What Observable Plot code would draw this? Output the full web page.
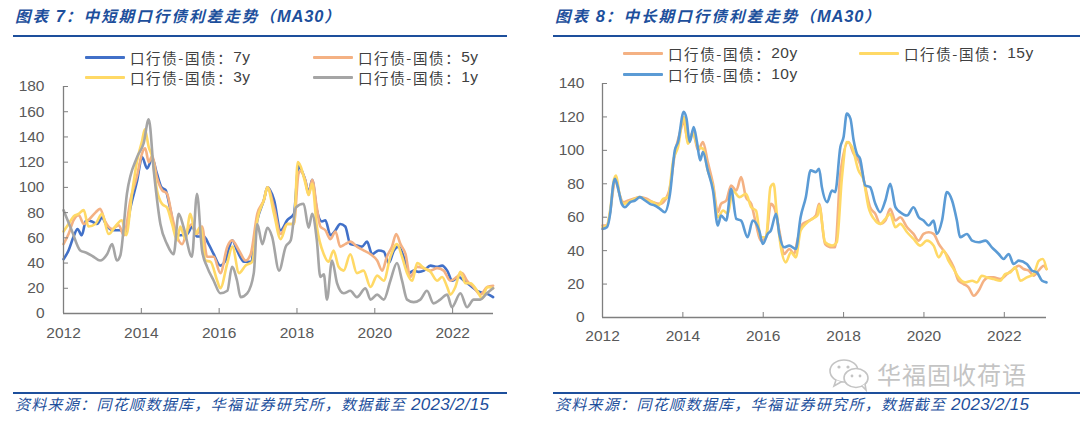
<!DOCTYPE html>
<html><head><meta charset="utf-8">
<script src="https://cdn.jsdelivr.net/npm/d3@7"></script>
<script src="https://cdn.jsdelivr.net/npm/@observablehq/plot@0.6"></script>
<style>
body{margin:0;background:#fff;width:1080px;height:422px;position:relative;overflow:hidden;font-family:"Noto Sans CJK SC",sans-serif;}
.abs{position:absolute;}
.title{font-size:15.5px;font-weight:bold;font-style:italic;color:#1d4f9c;letter-spacing:2.1px;white-space:nowrap;line-height:20px;}
.title .n{font-family:"Liberation Sans",Arial,sans-serif;font-size:16.5px;letter-spacing:0.8px;}
.rule{height:2px;background:#1d4f9c;}
.leg{font-size:14.5px;color:#404040;letter-spacing:1.6px;white-space:nowrap;display:flex;align-items:center;height:20px;}
.leg .n{font-family:"Liberation Sans",Arial,sans-serif;font-size:15.5px;letter-spacing:0.5px;}
.sw{display:inline-block;width:40px;height:3px;margin-right:5px;border-radius:1px;}
.src{font-size:15px;font-style:italic;color:#1d4f9c;white-space:nowrap;line-height:20px;letter-spacing:1.3px;}
.src .n{font-family:"Liberation Sans",Arial,sans-serif;font-size:17px;letter-spacing:0.3px;}
.wm{font-size:24px;color:#c4c4c4;white-space:nowrap;line-height:30px;letter-spacing:1px;}
</style></head>
<body>
<script>
// ---------- Left chart: 中短期 (x = decimal year, y = bp) ----------
const leftNames = ["口行债-国债：7y", "口行债-国债：5y", "口行债-国债：3y", "口行债-国债：1y"];
const leftColors = ["#4170C8", "#F4B183", "#FFD966", "#A5A5A5"];
const s7y = [[2012.00,43],[2012.13,50],[2012.26,61],[2012.36,67],[2012.47,62],[2012.58,74],[2012.73,73],[2012.86,71],[2012.99,76],[2013.12,69],[2013.29,66],[2013.46,66],[2013.59,63],[2013.72,84],[2013.89,105],[2014.02,124],[2014.15,115],[2014.28,123],[2014.40,111],[2014.52,100],[2014.62,98],[2014.75,82],[2014.88,63],[2015.00,62],[2015.18,63],[2015.31,69],[2015.43,61],[2015.61,61],[2015.73,55],[2015.86,47],[2016.03,38],[2016.16,42],[2016.34,58],[2016.46,50],[2016.64,41],[2016.81,41],[2016.98,74],[2017.15,90],[2017.24,100],[2017.41,90],[2017.58,66],[2017.75,74],[2017.92,79],[2018.04,117],[2018.09,115],[2018.21,106],[2018.30,96],[2018.39,106],[2018.51,82],[2018.64,73],[2018.73,74],[2018.86,62],[2018.99,66],[2019.11,71],[2019.24,69],[2019.37,55],[2019.54,54],[2019.67,53],[2019.80,57],[2019.93,47],[2020.10,50],[2020.23,49],[2020.36,40],[2020.49,50],[2020.61,53],[2020.74,45],[2020.87,32],[2021.00,34],[2021.13,33],[2021.26,34],[2021.43,38],[2021.60,37],[2021.73,38],[2021.86,34],[2021.99,26],[2022.16,29],[2022.29,26],[2022.46,22],[2022.63,18],[2022.80,16],[2022.93,15],[2023.04,13]];
const s5y = [[2012.00,55],[2012.13,63],[2012.26,74],[2012.39,78],[2012.52,71],[2012.64,74],[2012.82,80],[2012.94,83],[2013.07,73],[2013.25,67],[2013.42,70],[2013.55,62],[2013.72,90],[2013.89,109],[2014.02,127],[2014.10,131],[2014.19,120],[2014.28,125],[2014.40,108],[2014.53,98],[2014.66,95],[2014.79,77],[2014.92,61],[2015.05,55],[2015.18,66],[2015.31,71],[2015.43,63],[2015.56,69],[2015.69,45],[2015.86,45],[2016.03,32],[2016.21,53],[2016.33,58],[2016.51,50],[2016.68,42],[2016.81,47],[2016.98,79],[2017.15,90],[2017.24,100],[2017.41,84],[2017.58,63],[2017.75,71],[2017.92,71],[2018.04,111],[2018.09,113],[2018.21,106],[2018.30,94],[2018.39,106],[2018.51,84],[2018.60,69],[2018.73,66],[2018.86,59],[2018.99,65],[2019.11,53],[2019.24,55],[2019.37,57],[2019.54,53],[2019.71,50],[2019.89,47],[2020.06,42],[2020.19,34],[2020.31,45],[2020.44,53],[2020.55,63],[2020.66,55],[2020.79,47],[2020.91,29],[2021.09,37],[2021.26,36],[2021.43,34],[2021.60,36],[2021.77,34],[2021.94,26],[2022.11,29],[2022.24,32],[2022.37,26],[2022.54,21],[2022.71,15],[2022.89,21],[2023.04,22]];
const s3y = [[2012.00,65],[2012.13,71],[2012.26,77],[2012.39,79],[2012.52,82],[2012.64,69],[2012.82,71],[2012.99,79],[2013.16,63],[2013.33,69],[2013.50,74],[2013.61,62],[2013.76,95],[2013.89,121],[2014.02,137],[2014.09,146],[2014.19,132],[2014.28,124],[2014.40,98],[2014.53,87],[2014.66,84],[2014.79,71],[2014.92,58],[2015.00,69],[2015.13,59],[2015.26,79],[2015.39,63],[2015.52,69],[2015.65,42],[2015.78,41],[2015.95,26],[2016.03,20],[2016.21,40],[2016.34,53],[2016.51,32],[2016.68,38],[2016.85,41],[2016.98,74],[2017.15,90],[2017.24,100],[2017.41,79],[2017.58,59],[2017.75,71],[2017.92,71],[2018.02,120],[2018.09,117],[2018.21,104],[2018.30,94],[2018.39,103],[2018.51,69],[2018.69,47],[2018.81,41],[2018.94,50],[2019.07,37],[2019.20,34],[2019.37,47],[2019.54,32],[2019.71,34],[2019.89,21],[2020.06,30],[2020.23,26],[2020.40,45],[2020.57,55],[2020.70,45],[2020.83,32],[2020.96,26],[2021.09,40],[2021.26,36],[2021.43,33],[2021.60,26],[2021.73,29],[2021.86,21],[2021.94,15],[2022.07,21],[2022.20,33],[2022.33,24],[2022.46,24],[2022.63,18],[2022.76,12],[2022.89,21],[2023.04,20]];
const s1y = [[2012.00,82],[2012.21,66],[2012.43,50],[2012.60,48],[2012.77,45],[2012.94,42],[2013.12,47],[2013.25,55],[2013.37,42],[2013.46,46],[2013.63,95],[2013.89,124],[2014.06,135],[2014.19,154],[2014.32,113],[2014.49,71],[2014.66,55],[2014.83,47],[2014.96,79],[2015.09,68],[2015.30,45],[2015.43,95],[2015.56,50],[2015.69,37],[2015.86,26],[2016.03,16],[2016.21,18],[2016.33,37],[2016.46,26],[2016.55,13],[2016.72,16],[2016.89,32],[2016.98,71],[2017.11,55],[2017.24,68],[2017.36,61],[2017.54,34],[2017.71,53],[2017.84,58],[2017.97,84],[2018.17,87],[2018.30,68],[2018.39,79],[2018.51,58],[2018.60,29],[2018.69,31],[2018.77,11],[2018.90,42],[2019.03,24],[2019.20,16],[2019.37,18],[2019.54,13],[2019.76,20],[2019.89,11],[2020.06,15],[2020.23,11],[2020.40,26],[2020.57,40],[2020.70,26],[2020.83,11],[2021.00,9],[2021.17,11],[2021.34,18],[2021.51,8],[2021.68,11],[2021.86,15],[2021.98,5],[2022.20,16],[2022.37,5],[2022.54,11],[2022.71,11],[2022.88,16],[2023.04,20]];
const leftYTicks = [0, 20, 40, 60, 80, 100, 120, 140, 160, 180];

// ---------- Right chart: 中长期 ----------
const rightNames = ["口行债-国债：20y", "口行债-国债：15y", "口行债-国债：10y"];
const rightColors = ["#F4B183", "#FFD966", "#5B9BD5"];
const s20y = [[2012.00,55],[2012.11,55],[2012.19,63],[2012.29,80],[2012.34,82],[2012.42,74],[2012.52,69],[2012.64,70],[2012.77,71],[2012.93,72],[2013.10,71],[2013.26,69],[2013.43,68],[2013.55,70],[2013.68,78],[2013.80,98],[2013.92,110],[2014.02,117],[2014.13,105],[2014.25,111],[2014.38,100],[2014.50,105],[2014.62,93],[2014.75,80],[2014.87,63],[2014.95,68],[2015.08,70],[2015.20,79],[2015.33,76],[2015.45,84],[2015.57,72],[2015.70,68],[2015.82,56],[2015.94,46],[2016.07,48],[2016.19,68],[2016.27,66],[2016.40,52],[2016.52,38],[2016.65,41],[2016.77,38],[2016.85,46],[2016.98,56],[2017.14,58],[2017.31,61],[2017.39,68],[2017.54,44],[2017.71,42],[2017.79,42],[2017.92,86],[2018.12,105],[2018.25,98],[2018.41,92],[2018.54,78],[2018.66,66],[2018.79,62],[2018.91,56],[2019.04,58],[2019.16,65],[2019.29,58],[2019.41,60],[2019.58,54],[2019.74,50],[2019.87,46],[2019.99,50],[2020.12,51],[2020.24,50],[2020.37,44],[2020.49,40],[2020.61,36],[2020.74,30],[2020.86,22],[2020.99,20],[2021.11,18],[2021.24,13],[2021.36,16],[2021.49,22],[2021.61,24],[2021.73,24],[2021.90,23],[2022.07,26],[2022.23,29],[2022.36,31],[2022.48,29],[2022.61,28],[2022.73,25],[2022.85,28],[2022.98,31],[2023.05,29]];
const s15y = [[2012.00,54],[2012.11,55],[2012.19,64],[2012.29,83],[2012.34,85],[2012.42,74],[2012.52,68],[2012.64,69],[2012.81,71],[2012.93,72],[2013.10,70],[2013.26,69],[2013.39,67],[2013.51,71],[2013.63,72],[2013.76,94],[2013.88,102],[2014.02,120],[2014.13,104],[2014.25,110],[2014.38,102],[2014.50,101],[2014.62,88],[2014.75,78],[2014.87,60],[2015.00,64],[2015.12,62],[2015.24,76],[2015.41,72],[2015.57,74],[2015.70,66],[2015.82,64],[2015.94,48],[2016.07,48],[2016.18,78],[2016.26,80],[2016.33,64],[2016.44,42],[2016.56,33],[2016.69,39],[2016.81,36],[2016.93,52],[2017.06,56],[2017.22,59],[2017.35,61],[2017.39,67],[2017.54,45],[2017.71,43],[2017.83,45],[2017.96,84],[2018.08,105],[2018.21,102],[2018.37,88],[2018.50,82],[2018.62,66],[2018.79,58],[2018.91,56],[2019.04,59],[2019.16,62],[2019.29,54],[2019.41,56],[2019.58,51],[2019.74,47],[2019.91,43],[2020.07,46],[2020.24,43],[2020.37,36],[2020.49,40],[2020.61,34],[2020.74,29],[2020.86,24],[2021.03,21],[2021.20,22],[2021.32,21],[2021.44,25],[2021.57,24],[2021.73,23],[2021.90,22],[2022.02,26],[2022.15,27],[2022.27,30],[2022.40,22],[2022.56,24],[2022.73,26],[2022.86,34],[2022.96,35],[2023.05,29]];
const s10y = [[2012.00,53],[2012.11,54],[2012.19,62],[2012.27,80],[2012.31,83],[2012.40,76],[2012.48,68],[2012.56,66],[2012.69,69],[2012.81,70],[2012.93,72],[2013.06,70],[2013.18,68],[2013.30,67],[2013.43,65],[2013.55,63],[2013.68,74],[2013.80,100],[2013.88,105],[2014.02,123],[2014.09,119],[2014.17,105],[2014.27,114],[2014.35,105],[2014.43,94],[2014.50,99],[2014.62,88],[2014.75,76],[2014.87,55],[2014.95,61],[2015.08,58],[2015.20,77],[2015.33,59],[2015.45,58],[2015.61,48],[2015.74,58],[2015.90,52],[2015.99,44],[2016.11,50],[2016.19,52],[2016.32,62],[2016.40,50],[2016.52,42],[2016.65,43],[2016.81,41],[2016.93,60],[2017.06,72],[2017.18,88],[2017.31,87],[2017.39,89],[2017.46,78],[2017.59,69],[2017.71,76],[2017.79,75],[2017.92,102],[2018.00,108],[2018.08,122],[2018.17,119],[2018.25,106],[2018.33,98],[2018.41,95],[2018.54,79],[2018.66,78],[2018.79,68],[2018.91,63],[2019.04,70],[2019.16,80],[2019.29,66],[2019.41,63],[2019.58,61],[2019.74,66],[2019.87,60],[2019.99,58],[2020.12,55],[2020.24,58],[2020.32,50],[2020.45,58],[2020.57,75],[2020.70,70],[2020.82,58],[2020.90,48],[2021.07,50],[2021.20,46],[2021.36,45],[2021.53,46],[2021.69,42],[2021.86,38],[2021.98,35],[2022.11,38],[2022.23,32],[2022.36,34],[2022.56,32],[2022.69,28],[2022.81,27],[2022.94,22],[2023.05,21]];
const rightYTicks = [0, 20, 40, 60, 80, 100, 120, 140];

const xTicks = [2012, 2014, 2016, 2018, 2020, 2022];
const xDomain = [2012, 2023.05];

const pageTitles = ["图表 7：中短期口行债利差走势（MA30）", "图表 8：中长期口行债利差走势（MA30）"];
const sourceText = "资料来源：同花顺数据库，华福证券研究所，数据截至 2023/2/15";
const watermark = "华福固收荷语";

// ---------- helpers ----------
function el(tag, cls, style, html) {
  const e = document.createElement(tag);
  if (cls) e.className = cls;
  Object.assign(e.style, style);
  if (html != null) e.innerHTML = html;
  document.body.appendChild(e);
  return e;
}
function fmtNum(s) { return s.replace(/([A-Za-z0-9\/]+)/g, '<span class="n">$1</span>'); }

function chart(series, names, colors, yMax, yTicks, o) {
  const data = series.flatMap((s, i) => s.map(([x, y]) => ({x, y, k: names[i]})));
  const axisColor = "#7f7f7f";
  return Plot.plot({
    width: o.width, height: o.height,
    marginTop: o.mt, marginBottom: o.mb, marginLeft: o.ml, marginRight: o.mr,
    style: {fontFamily: "'Liberation Sans', Arial, sans-serif", fontSize: "15.5px", color: "#595959", background: "transparent", overflow: "visible"},
    x: {domain: xDomain},
    y: {domain: [0, yMax]},
    color: {domain: names, range: colors},
    marks: [
      Plot.line(data, {x: "x", y: "y", z: "k", stroke: "k", strokeWidth: 2.6, curve: "monotone-x", strokeLinejoin: "round"}),
      Plot.ruleY([0], {stroke: axisColor, strokeWidth: 1.3}),
      Plot.ruleX([xDomain[0]], {stroke: axisColor, strokeWidth: 1.3}),
      Plot.axisX({ticks: xTicks, tickSize: -5, stroke: axisColor, tickFormat: () => "", label: null}),
      Plot.axisX({ticks: xTicks, tickSize: 0, tickPadding: o.xpad, tickFormat: d => String(d), label: null, fill: "#595959"}),
      Plot.axisY({ticks: yTicks, tickSize: -5, stroke: axisColor, tickFormat: () => "", label: null}),
      Plot.axisY({ticks: yTicks, tickSize: 0, tickPadding: o.ypad, tickFormat: d => String(d), label: null, fill: "#595959"})
    ]
  });
}

// ---------- page layout ----------
el("div", "abs title", {left: "15px", top: "5px"}, fmtNum(pageTitles[0]));
el("div", "abs title", {left: "555px", top: "5px"}, fmtNum(pageTitles[1]));
el("div", "abs rule", {left: "13px", top: "35px", width: "494px"});
el("div", "abs rule", {left: "553px", top: "35px", width: "527px"});

function legend(name, color, left, top) {
  el("div", "abs leg", {left: left + "px", top: top + "px"},
    `<span class="sw" style="background:${color}"></span>${fmtNum(name)}`);
}
legend(leftNames[0], leftColors[0], 85, 47);
legend(leftNames[1], leftColors[1], 313, 47);
legend(leftNames[2], leftColors[2], 85, 67);
legend(leftNames[3], leftColors[3], 313, 67);
legend(rightNames[0], rightColors[0], 623, 43);
legend(rightNames[1], rightColors[1], 859, 43);
legend(rightNames[2], rightColors[2], 623, 64);

const left = chart([s7y, s5y, s3y, s1y], leftNames, leftColors, 180, leftYTicks,
  {width: 510, height: 265, mt: 6, mb: 32, ml: 63, mr: 17, xpad: 13, ypad: 19});
const lw = el("div", "abs", {left: "0px", top: "80px"}); lw.appendChild(left);
const right = chart([s20y, s15y, s10y], rightNames, rightColors, 140, rightYTicks,
  {width: 540, height: 270, mt: 8, mb: 28, ml: 62, mr: 34, xpad: 12, ypad: 18});
const rw = el("div", "abs", {left: "540px", top: "75px"}); rw.appendChild(right);

// watermark
el("div", "abs", {left: "828px", top: "358px"},
  `<svg width="46" height="34" viewBox="0 0 46 34"><g fill="#fff" stroke="#c4c4c4" stroke-width="1.6">
   <ellipse cx="16" cy="13" rx="14" ry="11"/><path d="M8 22 l-2 6 l7 -4"/>
   <ellipse cx="28" cy="20" rx="12" ry="9.5"/><path d="M34 28 l4 4 l-1 -6"/></g>
   <g fill="#c4c4c4"><circle cx="11" cy="9" r="1.6"/><circle cx="20" cy="9" r="1.6"/><circle cx="24" cy="18" r="1.4"/><circle cx="32" cy="18" r="1.4"/></g></svg>`);
el("div", "abs wm", {left: "877px", top: "359px"}, watermark);

el("div", "abs rule", {left: "13px", top: "392px", width: "494px"});
el("div", "abs rule", {left: "553px", top: "392px", width: "527px"});
el("div", "abs src", {left: "15px", top: "394px"}, fmtNum(sourceText));
el("div", "abs src", {left: "555px", top: "394px"}, fmtNum(sourceText));
</script>
</body></html>
